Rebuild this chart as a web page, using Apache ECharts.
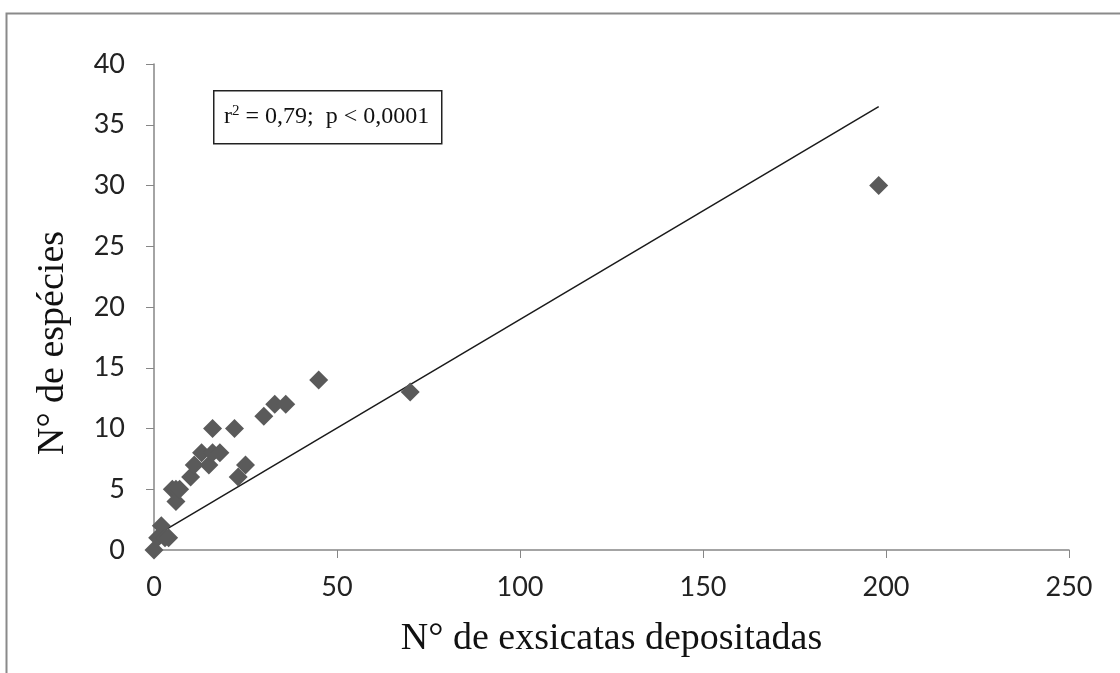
<!DOCTYPE html>
<html>
<head>
<meta charset="utf-8">
<script src="https://cdn.jsdelivr.net/npm/echarts@6/dist/echarts.min.js"></script>
<style>
html,body{margin:0;padding:0;background:#fff;}
#chart{width:1120px;height:673px;}
</style>
</head>
<body>
<div id="chart"></div>
<script>
// Data
var exsicatas = [0, 1, 2, 3, 4, 5, 6, 6, 7, 10, 11, 13, 15, 16, 16, 18, 22, 23, 25, 30, 33, 36, 45, 70, 198];
var especies  = [0, 1, 2, 1, 1, 5, 5, 4, 5, 6, 7, 8, 7, 8, 10, 8, 10, 6, 7, 11, 12, 12, 14, 13, 30];
var trendX = [0, 198];
var trendY = [1.1, 36.5];
var xTicks = [0, 50, 100, 150, 200, 250];
var yTicks = [0, 5, 10, 15, 20, 25, 30, 35, 40];
var xTitle = 'N° de exsicatas depositadas';
var yTitle = 'N° de espécies';

var points = exsicatas.map(function (x, i) { return [x, especies[i]]; });
var trend = trendX.map(function (x, i) { return [x, trendY[i]]; });

var chart = echarts.init(document.getElementById('chart'), null, {renderer: 'canvas'});
var axisColor = '#868686';
chart.setOption({
  backgroundColor: '#fff',
  animation: false,
  grid: {left: 154, right: 51, top: 64, bottom: 123, containLabel: false},
  xAxis: {
    type: 'value', min: xTicks[0], max: xTicks[xTicks.length - 1], interval: 50,
    name: xTitle, nameLocation: 'middle', nameGap: 70,
    nameTextStyle: {fontFamily: 'Liberation Serif', fontSize: 38, color: '#111'},
    axisLine: {lineStyle: {color: axisColor, width: 1.5}},
    axisTick: {show: true, length: 8, lineStyle: {color: axisColor}},
    axisLabel: {fontFamily: 'Lato', fontSize: 27, color: '#222', margin: 24},
    splitLine: {show: false}
  },
  yAxis: {
    type: 'value', min: yTicks[0], max: yTicks[yTicks.length - 1], interval: 5,
    name: yTitle, nameLocation: 'middle', nameGap: 82, nameRotate: 90,
    nameTextStyle: {fontFamily: 'Liberation Serif', fontSize: 38, color: '#111', padding: [0, 72, 0, 0]},
    axisLine: {show: true, lineStyle: {color: axisColor, width: 1.5}},
    axisTick: {show: true, length: 8, lineStyle: {color: axisColor}},
    axisLabel: {fontFamily: 'Lato', fontSize: 27, color: '#222', margin: 29},
    splitLine: {show: false}
  },
  series: [
    {
      type: 'line', data: trend, showSymbol: false, symbol: 'none',
      lineStyle: {color: '#1a1a1a', width: 1.5}, z: 3
    },
    {
      type: 'scatter', data: points, symbol: 'diamond', symbolSize: 19,
      itemStyle: {color: '#5a5a5a', opacity: 1}, z: 4
    }
  ],
  graphic: [
    {
      type: 'rect', left: 4, top: 11, z: 100,
      shape: {width: 1200, height: 800},
      style: {fill: 'none', stroke: '#8a8a8a', lineWidth: 2}
    },
    {
      type: 'rect', left: 213, top: 90, z: 100,
      shape: {width: 228, height: 53},
      style: {fill: '#fff', stroke: '#222', lineWidth: 1.5}
    },
    {
      type: 'text', left: 224, top: 104, z: 101,
      style: {
        text: '{b|r}{s|2}{b| = 0,79;  p < 0,0001}',
        rich: {
          b: {fontFamily: 'Liberation Serif', fontSize: 24, fill: '#111', color: '#111', verticalAlign: 'bottom'},
          s: {fontFamily: 'Liberation Serif', fontSize: 15, fill: '#111', color: '#111', verticalAlign: 'top', padding: [0, 0, 10, 0]}
        }
      }
    }
  ]
});
</script>
</body>
</html>
